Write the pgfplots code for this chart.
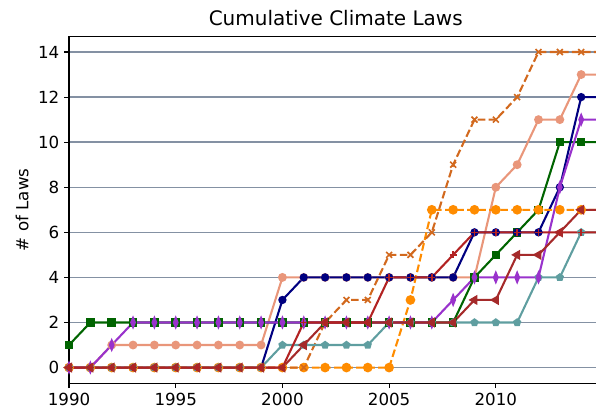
\documentclass[border=0pt]{standalone}
\usepackage{pgfplots}
\pgfplotsset{compat=1.18}
\usepackage{pgfplotstable}
\usetikzlibrary{plotmarks}
\usepackage{fontspec}
\setmainfont{DejaVu Sans}
\definecolor{cnavy}{HTML}{000080}
\definecolor{cgreen}{HTML}{006400}
\definecolor{csalmon}{HTML}{E9967A}
\definecolor{corange}{HTML}{FF8C00}
\definecolor{cchoc}{HTML}{D2691E}
\definecolor{corchid}{HTML}{9932CC}
\definecolor{cbrown}{HTML}{A52A2A}
\definecolor{cfire}{HTML}{B22222}
\definecolor{ccadet}{HTML}{5F9EA0}
\definecolor{cgrid}{HTML}{8491A3}
\pgfplotstableread{
year nv gr sa or ch pu tr gt cb
1990 0 1 0 0 0 0 0 0 0
1991 0 2 0 0 0 0 0 0 0
1992 0 2 1 0 0 1 0 0 0
1993 0 2 1 0 0 2 0 0 0
1994 0 2 1 0 0 2 0 0 0
1995 0 2 1 0 0 2 0 0 0
1996 0 2 1 0 0 2 0 0 0
1997 0 2 1 0 0 2 0 0 0
1998 0 2 1 0 0 2 0 0 0
1999 0 2 1 0 0 2 0 0 0
2000 3 2 4 0 0 2 0 0 1
2001 4 2 4 0 0 2 1 2 1
2002 4 2 4 0 2 2 2 2 1
2003 4 2 4 0 3 2 2 2 1
2004 4 2 4 0 3 2 2 2 1
2005 4 2 4 0 5 2 2 4 2
2006 4 2 4 3 5 2 2 4 2
2007 4 2 4 7 6 2 2 4 2
2008 4 2 4 7 9 3 2 5 2
2009 6 4 4 7 11 4 3 6 2
2010 6 5 8 7 11 4 3 6 2
2011 6 6 9 7 12 4 5 6 2
2012 6 7 11 7 14 4 5 6 4
2013 8 10 11 7 14 8 6 6 4
2014 12 10 13 7 14 11 7 6 6
2015 12 10 13 7 14 11 7 6 6
}\data
\begin{document}
\begin{tikzpicture}
\path[use as bounding box] (-49.7pt,-22.8pt) rectangle (379.4pt,276pt);
\begin{axis}[
  at={(0,0)}, anchor=south west,
  scale only axis, width=384.1pt, height=249.9pt,
  xmin=1990, xmax=2015, ymin=-0.7, ymax=14.7,
  xtick={1990,1995,2000,2005,2010},
  ytick={0,2,4,6,8,10,12,14},
  tick pos=left, tick align=outside,
  major tick length=3.5pt,
  major tick style={black, line width=0.8pt},
  axis line style={line width=0.8pt},
  /pgf/number format/1000 sep={},
  /pgf/number format/assume math mode=true,
  ticklabel style={font=\fontsize{12}{14}\selectfont},
  ymajorgrids,
  grid style={cgrid, line width=1pt},
  title={Cumulative Climate Laws},
  title style={font=\fontsize{14.4}{17}\selectfont, at={(0.5,1)}, anchor=base, yshift=1.5pt},
  ylabel={\# of Laws},
  ylabel style={font=\fontsize{12}{14}\selectfont, at={(axis description cs:-0.088,0.5)}, anchor=center},
  every axis plot/.append style={line width=1.5pt},
]
\addplot[csalmon, mark=*, mark size=2.4pt] table[x=year,y=sa]{\data};
\addplot[cgreen, mark=square*, mark size=2.3pt] table[x=year,y=gr]{\data};
\addplot[cnavy, mark=*, mark size=2.2pt] table[x=year,y=nv]{\data};
\addplot[corange, dash pattern=on 5.55pt off 2.4pt, mark=*, mark size=2.7pt, mark options={solid}] table[x=year,y=or]{\data};
\addplot[cchoc, dash pattern=on 5.55pt off 2.4pt, mark=x, mark size=3pt, mark options={solid, line width=1.2pt}] table[x=year,y=ch]{\data};
\addplot[ccadet, mark=pentagon*, mark size=2.2pt] table[x=year,y=cb]{\data};
\addplot[corchid, mark=diamond*, mark size=3.2pt, mark options={xscale=0.55}] table[x=year,y=pu]{\data};
\addplot[cbrown, mark=triangle*, mark size=2.8pt, mark options={rotate=90}] table[x=year,y=tr]{\data};
\addplot[cfire, mark=+, mark size=2.5pt, mark options={line width=1pt}] table[x=year,y=gt]{\data};
\end{axis}
\end{tikzpicture}
\end{document}
